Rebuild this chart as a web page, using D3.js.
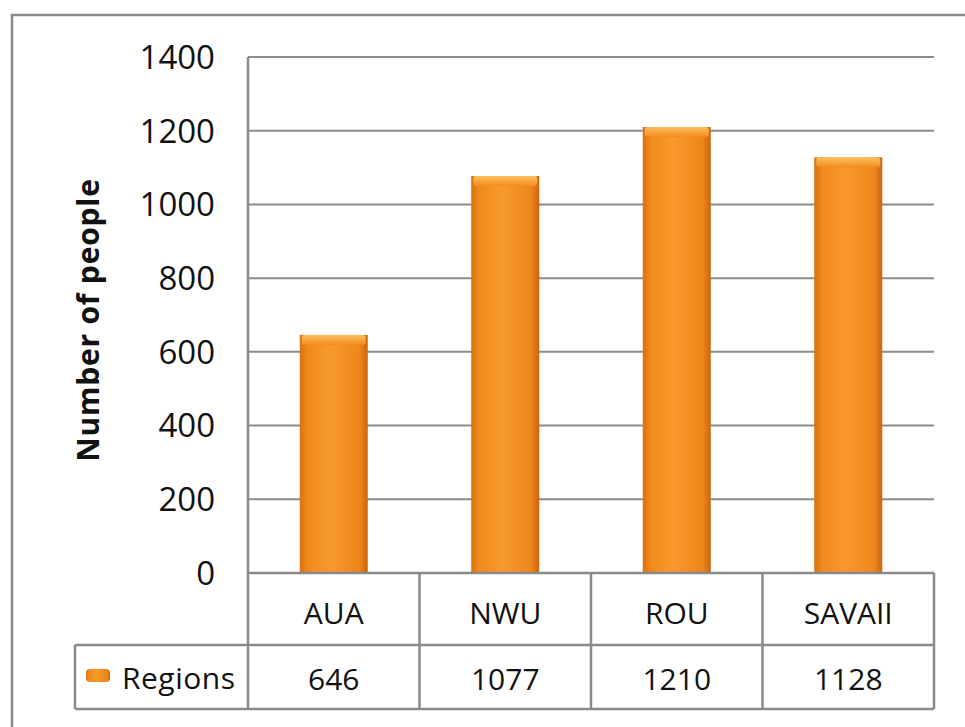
<!DOCTYPE html>
<html>
<head>
<meta charset="utf-8">
<script src="https://cdn.jsdelivr.net/npm/d3@7"></script>
<style>
  body { margin: 0; background: #fff; }
  svg { display: block; font-family: "Open Sans", "Liberation Sans", sans-serif; }
</style>
</head>
<body>
<div id="chart"></div>
<script>
// data
const categories = ["AUA", "NWU", "ROU", "SAVAII"];
const values = [646, 1077, 1210, 1128];
const seriesName = "Regions";
const yTicks = [0, 200, 400, 600, 800, 1000, 1200, 1400];

const width = 965, height = 727;
const plotLeft = 248, plotRight = 934, plotTop = 57, plotBottom = 573;
const catRowBottom = 645, valRowBottom = 709, legendLeft = 75;

const svg = d3.select("#chart").append("svg")
  .attr("width", width)
  .attr("height", height);

// bar gradient
const defs = svg.append("defs");
const grad = defs.append("linearGradient").attr("id", "barGrad")
  .attr("x1", "0%").attr("x2", "100%").attr("y1", "0%").attr("y2", "0%");
grad.append("stop").attr("offset", "0%").attr("stop-color", "#d9700f");
grad.append("stop").attr("offset", "12%").attr("stop-color", "#f08a1c");
grad.append("stop").attr("offset", "45%").attr("stop-color", "#f79a2c");
grad.append("stop").attr("offset", "88%").attr("stop-color", "#ee861a");
grad.append("stop").attr("offset", "100%").attr("stop-color", "#c9650c");
const capGrad = defs.append("linearGradient").attr("id", "capGrad")
  .attr("x1", "0%").attr("x2", "0%").attr("y1", "0%").attr("y2", "100%");
capGrad.append("stop").attr("offset", "0%").attr("stop-color", "#fcc060");
capGrad.append("stop").attr("offset", "100%").attr("stop-color", "#f28c1e");

// outer frame
svg.append("rect")
  .attr("x", 12).attr("y", 15)
  .attr("width", 1000).attr("height", 1000)
  .attr("fill", "none").attr("stroke", "#8a8a8a").attr("stroke-width", 2.5);

const x = d3.scaleBand().domain(categories).range([plotLeft, plotRight]).paddingInner(0).paddingOuter(0);
const y = d3.scaleLinear().domain([0, 1400]).range([plotBottom, plotTop]);

// gridlines
svg.append("g")
  .selectAll("line")
  .data(yTicks.filter(d => d > 0))
  .join("line")
  .attr("x1", plotLeft).attr("x2", plotRight)
  .attr("y1", d => y(d)).attr("y2", d => y(d))
  .attr("stroke", "#8c8c8c").attr("stroke-width", 2);

// y tick labels
svg.append("g")
  .selectAll("text")
  .data(yTicks)
  .join("text")
  .attr("x", 215)
  .attr("y", d => y(d))
  .attr("dy", "0.36em")
  .attr("text-anchor", "end")
  .attr("font-size", 33)
  .attr("fill", "#111")
  .text(d => d);

// y axis title
svg.append("text")
  .attr("transform", "translate(99," + 320 + ") rotate(-90)")
  .attr("text-anchor", "middle")
  .attr("font-size", 30)
  .attr("font-weight", "bold")
  .attr("letter-spacing", 0.8)
  .attr("fill", "#111")
  .text("Number of people");

// bars
const barW = 68;
const bars = svg.append("g");
bars.selectAll("rect.bar")
  .data(values)
  .join("rect")
  .attr("class", "bar")
  .attr("x", (d, i) => x(categories[i]) + x.bandwidth() / 2 - barW / 2)
  .attr("y", d => y(d))
  .attr("width", barW)
  .attr("height", d => plotBottom - y(d))
  .attr("fill", "url(#barGrad)");
bars.selectAll("rect.cap")
  .data(values)
  .join("rect")
  .attr("class", "cap")
  .attr("x", (d, i) => x(categories[i]) + x.bandwidth() / 2 - barW / 2 + 2)
  .attr("y", d => y(d))
  .attr("width", barW - 4)
  .attr("height", 10)
  .attr("rx", 3)
  .attr("fill", "url(#capGrad)");

// data table
const table = svg.append("g").attr("stroke", "#8a8a8a").attr("stroke-width", 2.5).attr("fill", "none");
table.append("line").attr("x1", plotLeft).attr("x2", plotLeft).attr("y1", plotTop).attr("y2", valRowBottom);
table.append("line").attr("x1", plotLeft).attr("x2", plotRight).attr("y1", plotBottom).attr("y2", plotBottom);
table.append("line").attr("x1", legendLeft).attr("x2", plotRight).attr("y1", catRowBottom).attr("y2", catRowBottom);
table.append("line").attr("x1", legendLeft).attr("x2", plotRight).attr("y1", valRowBottom).attr("y2", valRowBottom);
table.append("line").attr("x1", legendLeft).attr("x2", legendLeft).attr("y1", catRowBottom).attr("y2", valRowBottom);
table.selectAll("line.div")
  .data(categories)
  .join("line")
  .attr("class", "div")
  .attr("x1", d => x(d) + x.bandwidth()).attr("x2", d => x(d) + x.bandwidth())
  .attr("y1", plotBottom).attr("y2", valRowBottom);

svg.append("g").selectAll("text")
  .data(categories)
  .join("text")
  .attr("x", d => x(d) + x.bandwidth() / 2)
  .attr("y", (plotBottom + catRowBottom) / 2 + 4)
  .attr("dy", "0.36em")
  .attr("text-anchor", "middle")
  .attr("font-size", 30)
  .attr("fill", "#111")
  .text(d => d);

svg.append("g").selectAll("text")
  .data(values)
  .join("text")
  .attr("x", (d, i) => x(categories[i]) + x.bandwidth() / 2)
  .attr("y", (catRowBottom + valRowBottom) / 2 + 2)
  .attr("dy", "0.36em")
  .attr("text-anchor", "middle")
  .attr("font-size", 30)
  .attr("fill", "#111")
  .text(d => d);

// legend key + name
svg.append("rect")
  .attr("x", 86).attr("y", 669)
  .attr("width", 24).attr("height", 13)
  .attr("rx", 4)
  .attr("fill", "url(#barGrad)");
svg.append("text")
  .attr("x", 122)
  .attr("y", (catRowBottom + valRowBottom) / 2 + 1)
  .attr("dy", "0.36em")
  .attr("font-size", 30)
  .attr("letter-spacing", 0.5)
  .attr("fill", "#111")
  .text(seriesName);
</script>
</body>
</html>
